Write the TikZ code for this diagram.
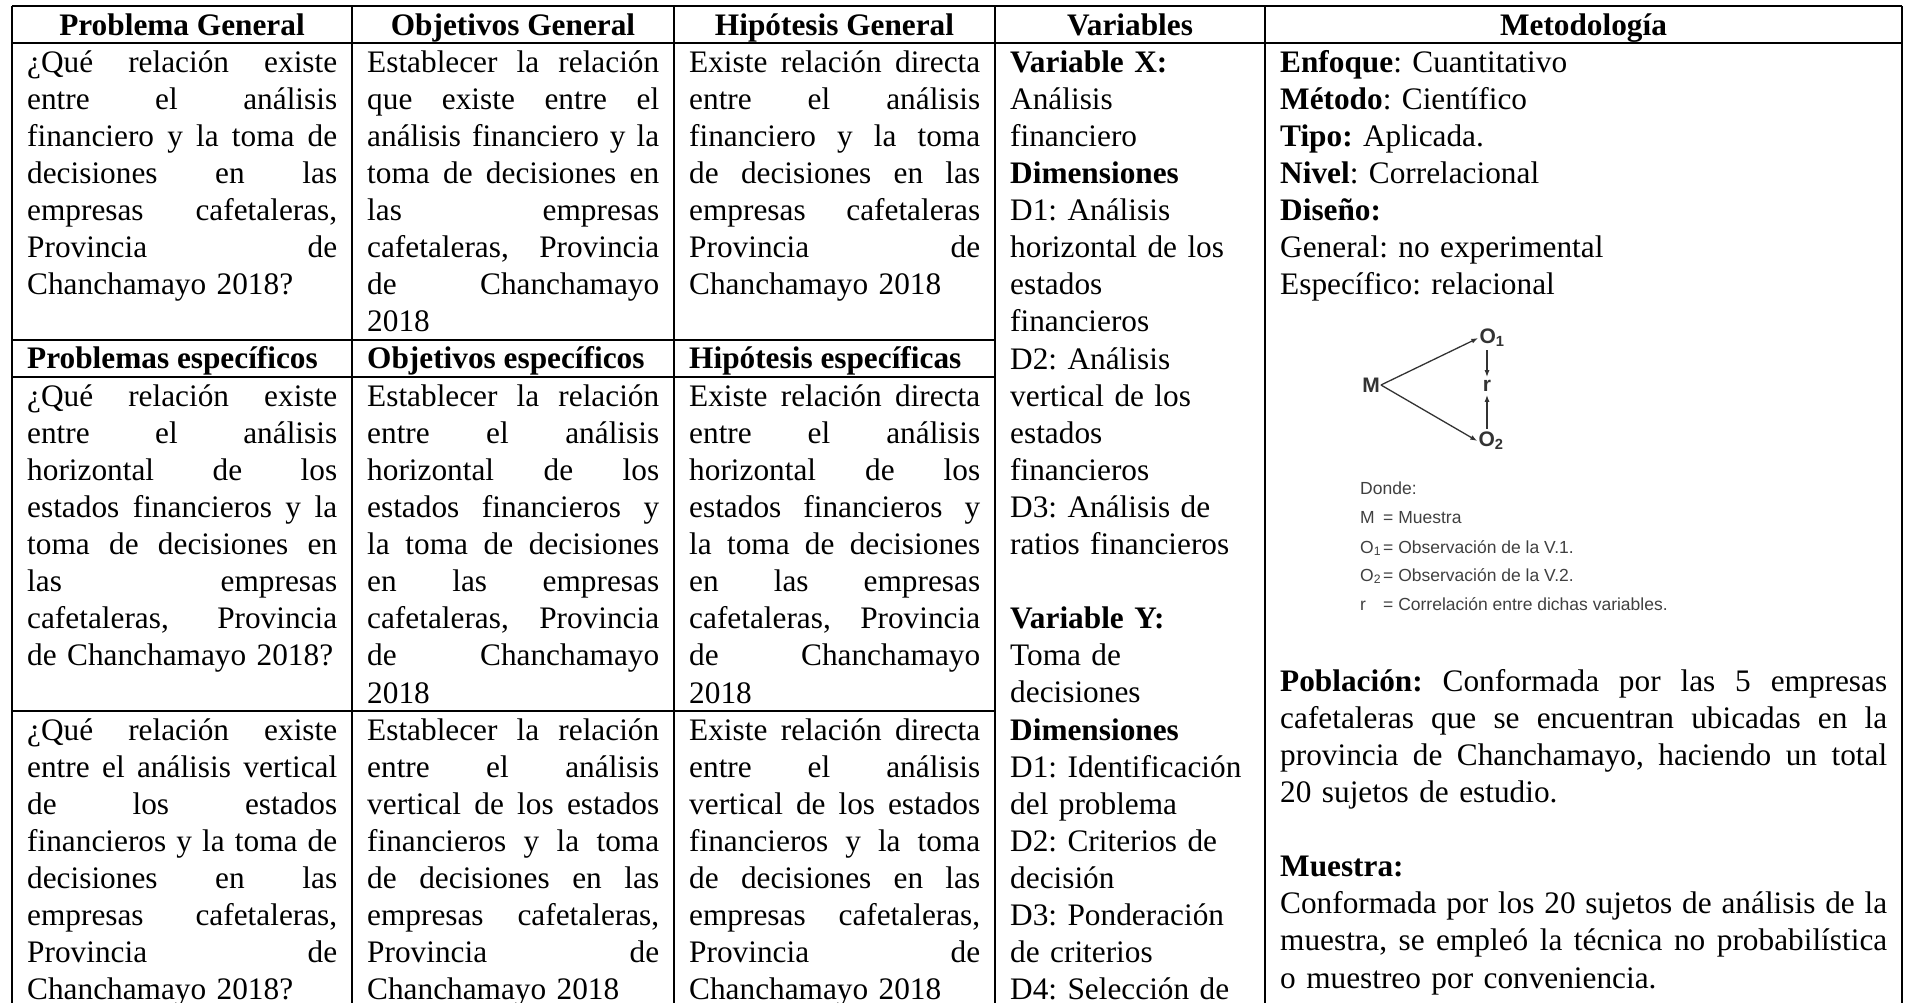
\documentclass[tikz,border=0pt]{standalone}
\usepackage{fontspec}
\setmainfont{Liberation Serif}
\newfontfamily\dgfont{Liberation Sans}
\usetikzlibrary{arrows.meta}
\frenchspacing
\newcommand\fs{\fontsize{31.3}{37.1}\selectfont}
\newcommand\st{\rule{0pt}{29pt}}
\newcommand\jw[2]{\makebox[#1][s]{\spaceskip=0.25em plus 1fil\relax #2}}
\newcommand\ja[1]{\jw{310pt}{#1}}
\newcommand\jb[1]{\jw{292pt}{#1}}
\newcommand\jc[1]{\jw{291pt}{#1}}
\newcommand\jm[1]{\jw{607pt}{#1}}
\begin{document}
\begin{tikzpicture}[x=1pt,y=-1pt,
  rulel/.style={line width=1.8pt},
  cell/.style={anchor=north west, inner sep=0pt, align=left, font=\fs\frenchspacing},
  hdr/.style={anchor=base, inner sep=0pt, font=\fs\bfseries},
  shdr/.style={anchor=base west, inner sep=0pt, font=\fs\bfseries},
  dgl/.style={inner sep=1pt, font=\dgfont\fontsize{21}{24}\selectfont\bfseries, text=black!80},
  leg/.style={anchor=base west, inner sep=0pt, font=\dgfont\fontsize{17.5}{20}\selectfont, text=black!75},
  arr/.style={-{Latex[length=7pt,width=5pt]}, line width=1.3pt, draw=black!80}
]
\useasboundingbox (0,0) rectangle (1906,1003);
\fill[white] (0,0) rectangle (1906,1003);
% grid
\draw[rulel] (12,6) -- (1902,6);
\draw[rulel] (12,43.1) -- (1902,43.1);
\draw[rulel] (12,339.9) -- (995,339.9);
\draw[rulel] (12,377) -- (995,377);
\draw[rulel] (12,710.9) -- (995,710.9);
\foreach \xx in {12,352,674,995,1265,1902}{\draw[rulel] (\xx,6) -- (\xx,1010);}
% headers
\node[hdr] (h1) at (182,35.1) {Problema General};
\node[hdr] (h2) at (513,35.1) {Objetivos General};
\node[hdr] (h3) at (834.5,35.1) {Hipótesis General};
\node[hdr] (h4) at (1130,35.1) {Variables};
\node[hdr] (h5) at (1583.5,35.1) {Metodología};
% row 1
\node[cell, text width=310pt] (r1c1) at (27,43.1) {\st\ja{¿Qué relación existe}\\ \ja{entre el análisis}\\ \ja{financiero y la toma de}\\ \ja{decisiones en las}\\ \ja{empresas cafetaleras,}\\ \ja{Provincia de}\\ Chanchamayo 2018?};
\node[cell, text width=292pt] (r1c2) at (367,43.1) {\st\jb{Establecer la relación}\\ \jb{que existe entre el}\\ \jb{análisis financiero y la}\\ \jb{toma de decisiones en}\\ \jb{las empresas}\\ \jb{cafetaleras, Provincia}\\ \jb{de Chanchamayo}\\ 2018};
\node[cell, text width=291pt] (r1c3) at (689,43.1) {\st\jc{Existe relación directa}\\ \jc{entre el análisis}\\ \jc{financiero y la toma}\\ \jc{de decisiones en las}\\ \jc{empresas cafetaleras}\\ \jc{Provincia de}\\ Chanchamayo 2018};
% specific headers
\node[shdr] (s1) at (27,368.9) {Problemas específicos};
\node[shdr] (s2) at (367,368.9) {Objetivos específicos};
\node[shdr] (s3) at (689,368.9) {Hipótesis específicas};
% row 2
\node[cell, text width=310pt] (r2c1) at (27,377) {\st\ja{¿Qué relación existe}\\ \ja{entre el análisis}\\ \ja{horizontal de los}\\ \ja{estados financieros y la}\\ \ja{toma de decisiones en}\\ \ja{las empresas}\\ \ja{cafetaleras, Provincia}\\ de Chanchamayo 2018?};
\node[cell, text width=292pt] (r2c2) at (367,377) {\st\jb{Establecer la relación}\\ \jb{entre el análisis}\\ \jb{horizontal de los}\\ \jb{estados financieros y}\\ \jb{la toma de decisiones}\\ \jb{en las empresas}\\ \jb{cafetaleras, Provincia}\\ \jb{de Chanchamayo}\\ 2018};
\node[cell, text width=291pt] (r2c3) at (689,377) {\st\jc{Existe relación directa}\\ \jc{entre el análisis}\\ \jc{horizontal de los}\\ \jc{estados financieros y}\\ \jc{la toma de decisiones}\\ \jc{en las empresas}\\ \jc{cafetaleras, Provincia}\\ \jc{de Chanchamayo}\\ 2018};
% row 3
\node[cell, text width=310pt] (r3c1) at (27,710.9) {\st\ja{¿Qué relación existe}\\ \ja{entre el análisis vertical}\\ \ja{de los estados}\\ \ja{financieros y la toma de}\\ \ja{decisiones en las}\\ \ja{empresas cafetaleras,}\\ \ja{Provincia de}\\ Chanchamayo 2018?};
\node[cell, text width=292pt] (r3c2) at (367,710.9) {\st\jb{Establecer la relación}\\ \jb{entre el análisis}\\ \jb{vertical de los estados}\\ \jb{financieros y la toma}\\ \jb{de decisiones en las}\\ \jb{empresas cafetaleras,}\\ \jb{Provincia de}\\ Chanchamayo 2018};
\node[cell, text width=291pt] (r3c3) at (689,710.9) {\st\jc{Existe relación directa}\\ \jc{entre el análisis}\\ \jc{vertical de los estados}\\ \jc{financieros y la toma}\\ \jc{de decisiones en las}\\ \jc{empresas cafetaleras,}\\ \jc{Provincia de}\\ Chanchamayo 2018};
% variables
\node[cell, text width=245pt] (var) at (1010,43.1) {\st\textbf{Variable X:}\\ Análisis\\ financiero\\ \textbf{Dimensiones}\\ D1: Análisis\\ horizontal de los\\ estados\\ financieros\\ D2: Análisis\\ vertical de los\\ estados\\ financieros\\ D3: Análisis de\\ ratios financieros\\ \mbox{}\\ \textbf{Variable Y:}\\ Toma de\\ decisiones\\ \textbf{Dimensiones}\\ D1: Identificación\\ del problema\\ D2: Criterios de\\ decisión\\ D3: Ponderación\\ de criterios\\ D4: Selección de};
% methodology
\node[cell, text width=607pt] (met) at (1280,43.1) {\st\textbf{Enfoque}: Cuantitativo\\ \textbf{Método}: Científico\\ \textbf{Tipo:} Aplicada.\\ \textbf{Nivel}: Correlacional\\ \textbf{Diseño:}\\ General: no experimental\\ Específico: relacional};
\node[cell, text width=607pt] (pob) at (1280,662) {\st\jm{\textbf{Población:} Conformada por las 5 empresas}\\ \jm{cafetaleras que se encuentran ubicadas en la}\\ \jm{provincia de Chanchamayo, haciendo un total}\\ 20 sujetos de estudio.\\ \mbox{}\\ \textbf{Muestra:}\\ \jm{Conformada por los 20 sujetos de análisis de la}\\ \jm{muestra, se empleó la técnica no probabilística}\\ o muestreo por conveniencia.};
% design diagram
\node[dgl] (M) at (1371,385) {M};
\node[dgl] (O1) at (1492,338) {O\textsubscript{1}};
\node[dgl] (r) at (1487,386) {r};
\node[dgl] (O2) at (1491,441) {O\textsubscript{2}};
\draw[arr] (M.east) -- (O1.west);
\draw[arr] (M.east) -- (O2.west);
\draw[arr, shorten <=2pt, shorten >=2pt] (O1.south -| r) -- (r.north);
\draw[arr, shorten <=2pt, shorten >=2pt] (O2.north -| r) -- (r.south);
\node[leg] (ld) at (1360,494) {Donde:};
\node[leg] (lm) at (1360,523) {\makebox[23pt][l]{M}= Muestra};
\node[leg] (lo1) at (1360,553) {\makebox[23pt][l]{O\textsubscript{1}}= Observación de la V.1.};
\node[leg] (lo2) at (1360,581) {\makebox[23pt][l]{O\textsubscript{2}}= Observación de la V.2.};
\node[leg] (lr) at (1360,610) {\makebox[23pt][l]{r}= Correlación entre dichas variables.};
\end{tikzpicture}
\end{document}
